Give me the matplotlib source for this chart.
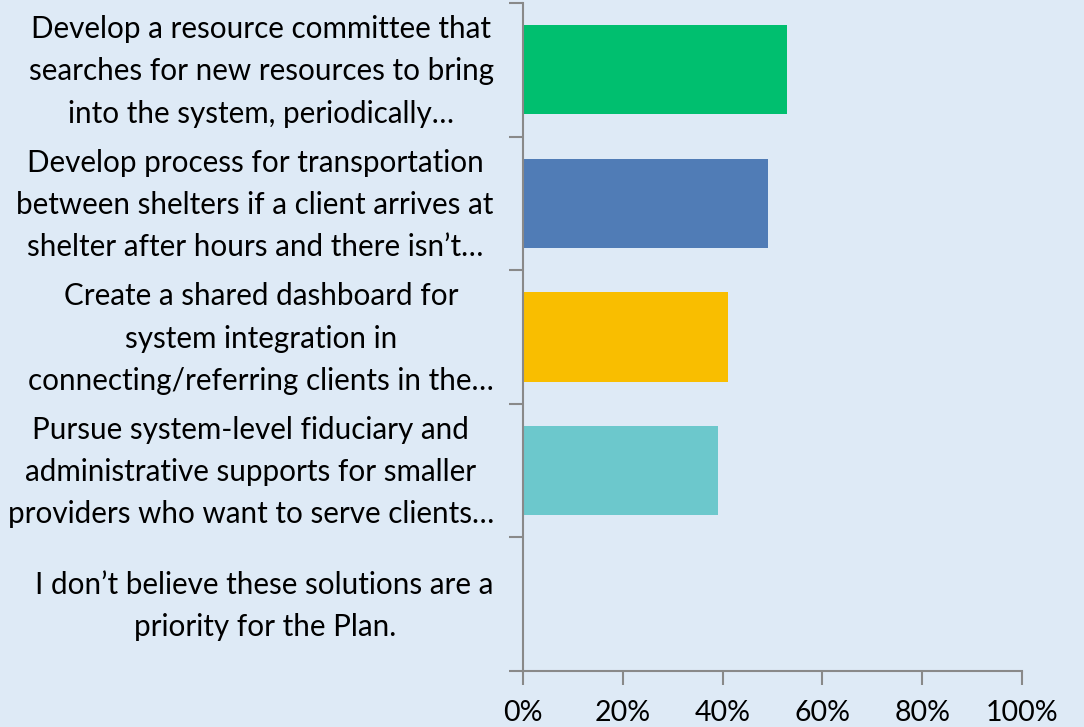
import matplotlib.pyplot as plt
import matplotlib.transforms as mtransforms
import numpy as np

# --- Datos ---
etiquetas = [
    "Develop a resource committee that\nsearches for new resources to bring\ninto the system, periodically…",
    "Develop process for transportation\nbetween shelters if a client arrives at\nshelter after hours and there isn’t…",
    "Create a shared dashboard for\nsystem integration in\nconnecting/referring clients in the…",
    "Pursue system-level fiduciary and\nadministrative supports for smaller\nproviders who want to serve clients…",
    "I don’t believe these solutions are a\npriority for the Plan.",
]
valores = [0.53, 0.49, 0.41, 0.39, 0.0]
colores = ["#00BF6F", "#507CB6", "#F9BE00", "#6CC8CC", "#A5A5A5"]

fondo = "#DEEAF6"
gris = "#898989"

plt.rcParams['font.family'] = ['Lato', 'DejaVu Sans']

fig = plt.figure(figsize=(10.84, 7.27), dpi=100, facecolor=fondo)
ax = fig.add_axes([0.4825, 0.077, 0.4603, 0.919])
ax.set_facecolor(fondo)

y = np.arange(len(etiquetas))
ax.barh(y, valores, height=0.67, color=colores)

ax.set_ylim(len(etiquetas) - 0.5, -0.5)
ax.set_xlim(0, 1)

# --- Ejes ---
ax.set_yticks(y)
ax.set_yticklabels(etiquetas, fontsize=21.3, multialignment='center', linespacing=1.62)
ax.tick_params(axis='y', which='major', length=0, pad=21)
ax.set_yticks(np.arange(-0.5, len(etiquetas)), minor=True)
ax.tick_params(axis='y', which='minor', length=10, color=gris, width=1.5)

# subir un poco las etiquetas para centrarlas con las barras
desplazar = mtransforms.ScaledTranslation(0, 8 / 100, fig.dpi_scale_trans)
for lbl in ax.get_yticklabels():
    lbl.set_transform(lbl.get_transform() + desplazar)

ax.set_xticks([0, 0.2, 0.4, 0.6, 0.8, 1.0])
ax.set_xticklabels(["0%", "20%", "40%", "60%", "80%", "100%"], fontsize=20.5)
ax.tick_params(axis='x', length=10, color=gris, width=1.5, pad=11)

for lado in ['top', 'right']:
    ax.spines[lado].set_visible(False)
for lado in ['left', 'bottom']:
    ax.spines[lado].set_color(gris)
    ax.spines[lado].set_linewidth(1.5)

plt.savefig("out.png", dpi=100, facecolor=fondo)
